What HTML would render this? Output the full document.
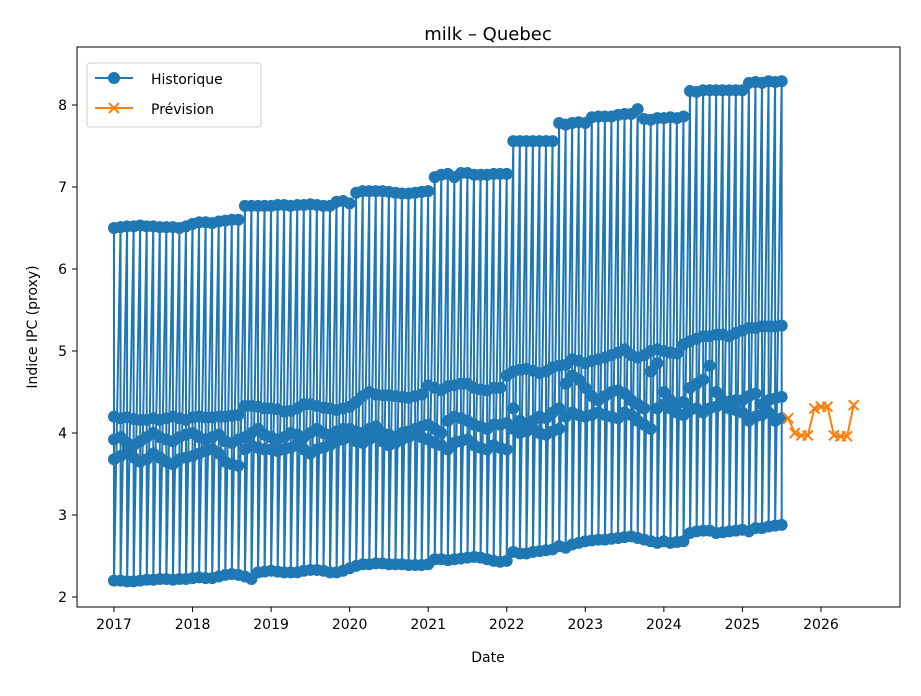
<!DOCTYPE html>
<html><head><meta charset="utf-8"><style>
body{margin:0;background:#fff}
svg text{font-family:"DejaVu Sans","Liberation Sans",sans-serif;fill:#000}
</style></head><body>
<svg id="c" width="921" height="691" xmlns="http://www.w3.org/2000/svg">
<rect width="921" height="691" fill="#fff"/>
<text x="488" y="40" font-size="18" text-anchor="middle">milk – Quebec</text>
<g id="plot"></g>
<rect x="77" y="47" width="823" height="560" fill="none" stroke="#000" stroke-width="1"/>
<g id="axes"></g>
<text x="488" y="662" font-size="14" text-anchor="middle">Date</text>
<text transform="translate(37,327) rotate(-90)" font-size="14" text-anchor="middle">Indice IPC (proxy)</text>
<g>
<rect x="87" y="63" width="174" height="64" rx="3" fill="#fff" fill-opacity="0.8" stroke="#ccc"/>
<g>
<line x1="95" y1="78" x2="133" y2="78" stroke="#1f77b4" stroke-width="2"/>
<circle cx="114" cy="78" r="6" fill="#1f77b4"/>
<text x="151" y="84" font-size="14">Historique</text></g>
<g>
<line x1="95" y1="108" x2="133" y2="108" stroke="#ff7f0e" stroke-width="2"/>
<path d="M109,103L119,113M119,103L109,113" stroke="#ff7f0e" stroke-width="2"/>
<text x="151" y="114" font-size="14">Prévision</text></g>
</g>
</svg>
<script>
const startYear = 2017;
const xTicks = [2017,2018,2019,2020,2021,2022,2023,2024,2025,2026];
const yTicks = [2,3,4,5,6,7,8];
const seriesTop = [6.50,6.51,6.52,6.52,6.53,6.52,6.52,6.51,6.51,6.51,6.50,6.52,
6.55,6.57,6.57,6.56,6.58,6.59,6.60,6.60,6.77,6.77,6.77,6.77,
6.77,6.78,6.78,6.77,6.78,6.78,6.79,6.78,6.77,6.77,6.82,6.83,
6.80,6.93,6.95,6.95,6.95,6.95,6.94,6.93,6.92,6.92,6.93,6.94,
6.95,7.12,7.15,7.16,7.12,7.17,7.17,7.15,7.15,7.15,7.16,7.16,
7.16,7.56,7.56,7.56,7.56,7.56,7.56,7.56,7.78,7.76,7.78,7.79,
7.78,7.85,7.86,7.86,7.86,7.88,7.89,7.89,7.95,7.83,7.82,7.84,
7.84,7.85,7.84,7.86,8.17,8.16,8.18,8.18,8.18,8.18,8.18,8.18,
8.18,8.27,8.28,8.27,8.29,8.28,8.29];
const seriesMid1 = [4.20,4.18,4.19,4.17,4.16,4.16,4.18,4.16,4.18,4.20,4.18,4.16,
4.19,4.20,4.19,4.19,4.20,4.20,4.21,4.22,4.33,4.33,4.32,4.30,
4.30,4.29,4.26,4.27,4.30,4.35,4.35,4.33,4.31,4.30,4.28,4.30,
4.32,4.38,4.45,4.50,4.47,4.46,4.46,4.45,4.44,4.43,4.45,4.47,
4.58,4.55,4.52,4.57,4.58,4.60,4.60,4.55,4.53,4.52,4.55,4.55,
4.70,4.75,4.77,4.78,4.76,4.73,4.75,4.80,4.82,4.83,4.90,4.88,
4.85,4.88,4.90,4.92,4.95,4.98,5.02,4.95,4.92,4.95,5.00,5.02,
5.00,4.98,4.97,5.08,5.12,5.15,5.18,5.18,5.20,5.20,5.18,5.22,
5.25,5.28,5.28,5.30,5.30,5.30,5.31];
const seriesMid2 = [3.92,3.95,3.88,3.85,3.90,3.95,4.00,3.95,3.92,3.90,3.95,3.98,
4.00,3.95,3.92,3.95,3.98,3.90,3.88,3.92,3.95,4.00,4.05,3.98,
3.95,3.92,3.95,4.00,3.98,3.95,4.00,4.05,4.00,3.98,4.02,4.05,
4.05,4.02,4.00,4.05,4.08,4.00,3.98,3.95,4.00,4.02,4.05,4.08,
4.10,4.05,4.00,4.15,4.20,4.18,4.15,4.10,4.08,4.05,4.10,4.10,
4.12,4.30,4.15,4.10,4.15,4.20,4.18,4.25,4.30,4.60,4.70,4.65,
4.55,4.45,4.40,4.45,4.50,4.52,4.48,4.40,4.35,4.30,4.75,4.85,
4.50,4.40,4.35,4.38,4.55,4.60,4.65,4.82,4.50,4.40,4.38,4.40,
4.40,4.45,4.48,4.35,4.40,4.42,4.44];
const seriesMid3 = [3.68,3.72,3.75,3.70,3.65,3.68,3.75,3.70,3.65,3.62,3.68,3.70,
3.72,3.75,3.78,3.80,3.75,3.65,3.62,3.60,3.80,3.85,3.82,3.80,
3.80,3.78,3.80,3.82,3.85,3.80,3.75,3.80,3.82,3.85,3.90,3.92,
3.95,3.90,3.88,3.92,3.95,3.90,3.85,3.88,3.92,3.95,3.98,3.95,
3.92,3.88,3.85,3.80,3.88,3.90,3.92,3.85,3.82,3.80,3.85,3.82,
3.80,4.05,4.00,4.02,4.05,4.00,3.98,4.02,4.05,4.20,4.25,4.22,
4.20,4.22,4.25,4.22,4.20,4.18,4.25,4.22,4.15,4.10,4.05,4.30,
4.35,4.30,4.25,4.22,4.28,4.30,4.25,4.30,4.32,4.35,4.30,4.28,
4.25,4.15,4.20,4.22,4.25,4.15,4.18];
const seriesBottom = [2.20,2.20,2.19,2.19,2.20,2.21,2.21,2.22,2.22,2.21,2.22,2.22,
2.23,2.24,2.23,2.23,2.25,2.27,2.28,2.27,2.25,2.22,2.30,2.31,
2.32,2.31,2.30,2.30,2.30,2.32,2.33,2.33,2.32,2.30,2.30,2.32,
2.35,2.38,2.40,2.40,2.41,2.41,2.40,2.40,2.40,2.39,2.39,2.39,
2.40,2.46,2.46,2.45,2.46,2.47,2.48,2.49,2.48,2.46,2.44,2.43,
2.44,2.55,2.53,2.53,2.55,2.56,2.57,2.58,2.62,2.60,2.64,2.66,
2.68,2.69,2.70,2.70,2.71,2.72,2.73,2.74,2.72,2.70,2.68,2.66,
2.68,2.66,2.67,2.68,2.78,2.80,2.81,2.81,2.78,2.79,2.80,2.81,
2.82,2.80,2.84,2.84,2.86,2.87,2.88];
const forecastStartMonth = 103; // months after Jan 2017
const forecast = [4.18,4.00,3.97,3.97,4.30,4.32,4.32,3.97,3.96,3.96,4.34];

const NS="http://www.w3.org/2000/svg";
function xs(t){return 114+(t-startYear)*78.55;}
function ys(v){return 597-(v-2)*82;}
function mk(tag,attrs,parent){const e=document.createElementNS(NS,tag);for(const k in attrs)e.setAttribute(k,attrs[k]);parent.appendChild(e);return e;}
const plot=document.getElementById('plot'), axes=document.getElementById('axes');

xTicks.forEach(t=>{
  const x=xs(t);
  const l=mk('line',{x1:x,x2:x,y1:607,y2:612,stroke:'#000'},axes);
  
  
  const tx=mk('text',{x:x,y:629,'font-size':14,'text-anchor':'middle'},axes);tx.textContent=t;
  
  
});
yTicks.forEach(v=>{
  const y=ys(v);
  const l=mk('line',{x1:72,x2:77,y1:y,y2:y,stroke:'#000'},axes);
  
  
  const tx=mk('text',{x:67,y:y+5,'font-size':14,'text-anchor':'end'},axes);tx.textContent=v;
  
  
});

const hist=[];
for(let i=0;i<seriesTop.length;i++){
  const t=startYear+i/12;
  [seriesTop,seriesMid1,seriesMid2,seriesMid3,seriesBottom].forEach(s=>hist.push([xs(t),ys(s[i])]));
}
const hp=mk('polyline',{points:hist.map(p=>p.join(',')).join(' '),fill:'none',stroke:'#1f77b4','stroke-width':2,'stroke-linejoin':'round'},plot);


const hg=mk('g',{fill:'#1f77b4'},plot);


hist.forEach(p=>mk('circle',{cx:p[0],cy:p[1],r:6},hg));

const fc=forecast.map((v,i)=>[xs(startYear+(forecastStartMonth+i)/12),ys(v)]);
const fp=mk('polyline',{points:fc.map(p=>p.join(',')).join(' '),fill:'none',stroke:'#ff7f0e','stroke-width':2},plot);


fc.forEach(p=>{
  const m=mk('path',{d:`M${p[0]-5},${p[1]-5}L${p[0]+5},${p[1]+5}M${p[0]+5},${p[1]-5}L${p[0]-5},${p[1]+5}`,stroke:'#ff7f0e','stroke-width':2},plot);
  
  
});
</script>
</body></html>
